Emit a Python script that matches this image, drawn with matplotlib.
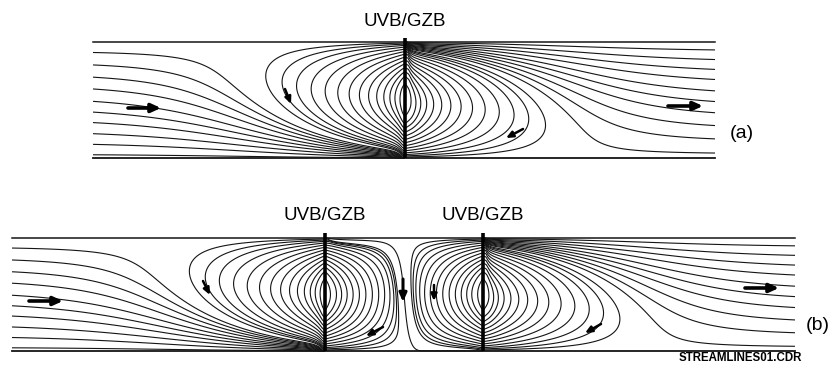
import numpy as np
import matplotlib
matplotlib.use("Agg")
import matplotlib.pyplot as plt

# ---------------- data ----------------
# stream-function values of the through-flow lines (fraction of channel height far upstream)
stream_levels = [0.034, 0.138, 0.241, 0.345, 0.44, 0.534, 0.638, 0.733, 0.828, 0.922]
# through-flow lines drawn in the gap between the two barriers
gap_levels = [0.5]
# distances (px, panel a) from the barrier at which the recirculation rings cross mid-depth
ring_offsets = [5, 10, 15, 21, 28, 36, 45, 55, 66, 78, 91, 104, 116, 128]
# barrier labels
barrier_label = "UVB/GZB"
panel_labels = ["(a)", "(b)"]
file_label = "STREAMLINES01.CDR"

# flow model parameters (shape only)
A_VORT = 4.3      # vortex strength
A_DECAY = 0.56    # vortex decay length (channel heights)
GAMMA = 0.08      # corner convergence
JET_AMP = 3.0
JET_K = 6.0

# ---------------- layout ----------------
panels = [
    dict(x0=93, x1=715, top=42, bot=158, barriers=[405], btop=38),
    dict(x0=12, x1=795, top=238, bot=351, barriers=[325, 483], btop=233),
]
arrows = [  # (x_tail, y_tail, x_head, y_head, kind)
    (128, 108, 161, 108, "big"), (668, 106, 703, 106, "big"),
    (285, 89, 291, 104, "small"), (523, 129, 506, 138, "small"),
    (29, 301, 63, 301, "big"), (745, 288, 779, 288, "big"),
    (203, 281, 210, 295, "small"), (383, 327, 366, 336, "small"),
    (403, 279, 403, 302, "mid"), (434, 285, 434, 301, "small"),
    (601, 324, 585, 333, "small"),
]

fig = plt.figure(figsize=(8.38, 3.67), dpi=100)
ax = fig.add_axes([0, 0, 1, 1])
ax.set_xlim(0, 838)
ax.set_ylim(367, 0)
ax.axis("off")

LC = "#151515"
LW = 0.8


def g(d):
    return np.exp(-d / A_DECAY)


def powfield(eta, phi):
    p = np.exp(np.clip(phi, -50, 50))
    with np.errstate(all="ignore"):
        v = np.where(eta > 0, np.power(np.maximum(eta, 1e-300), p), 0.0)
    return v


def psi_left(u, eta):
    phi = -GAMMA / u
    return powfield(eta, phi) + A_VORT * g(u) * np.sin(np.pi * eta)


def psi_right(u, eta):
    phi = GAMMA / u
    return powfield(eta, phi) - A_VORT * g(u) * np.sin(np.pi * eta)


def psi_gap(u1, u2, s, Dgap, eta):
    phi = GAMMA / u1 - GAMMA / u2 - JET_AMP * np.tanh(JET_K * s)
    Ap = A_VORT / (1 - g(Dgap))
    return (powfield(eta, phi) - Ap * g(u1) * np.sin(np.pi * eta)
            + Ap * g(u2) * np.sin(np.pi * eta))


def draw(X, Y, Z, levels):
    ax.contour(X, Y, Z, levels=sorted(levels), colors=LC, linewidths=LW,
               linestyles="solid")


Ha = panels[0]["bot"] - panels[0]["top"]
ring_d = []
for o in ring_offsets:
    d = float(psi_left(np.array(o / Ha), np.array(0.5))) - 1.0
    if d > 0.01:
        ring_d.append(d)

EPS = 1e-4
for P in panels:
    H = P["bot"] - P["top"]
    bars = P["barriers"]
    eta = np.linspace(0, 1, int(H * 4) + 1)

    xb = bars[0]
    u = np.linspace((xb - P["x0"]) / H, EPS, int((xb - P["x0"]) * 4))
    U, E = np.meshgrid(u, eta)
    draw(xb - U * H, P["bot"] - E * H, psi_left(U, E),
         stream_levels + [1 + d for d in ring_d])

    xb = bars[-1]
    u = np.linspace(EPS, (P["x1"] - xb) / H, int((P["x1"] - xb) * 4))
    U, E = np.meshgrid(u, eta)
    draw(xb + U * H, P["bot"] - E * H, psi_right(U, E),
         stream_levels + [-d for d in ring_d])

    for b1, b2 in zip(bars[:-1], bars[1:]):
        Dg = (b2 - b1) / H
        u1 = np.linspace(EPS, Dg - EPS, int((b2 - b1) * 5))
        U1, E = np.meshgrid(u1, eta)
        Z = psi_gap(U1, Dg - U1, U1 - Dg / 2, Dg, E)
        draw(b1 + U1 * H, P["bot"] - E * H, Z,
             gap_levels + [-d for d in ring_d] + [1 + d for d in ring_d])

    ax.plot([P["x0"], P["x1"]], [P["top"], P["top"]], color=LC, lw=1.1)
    ax.plot([P["x0"], P["x1"]], [P["bot"], P["bot"]], color=LC, lw=1.3)
    for xb in bars:
        ax.plot([xb, xb], [P["btop"], P["bot"]], color="black", lw=2.6,
                solid_capstyle="butt")
        ax.text(xb, P["btop"] - 17, barrier_label, ha="center", va="center",
                fontsize=13.5, family="Liberation Sans", color="black")

ax.text(742, 133, panel_labels[0], ha="center", va="center", fontsize=14,
        family="Liberation Sans")
ax.text(818, 325, panel_labels[1], ha="center", va="center", fontsize=14,
        family="Liberation Sans")
ax.text(740, 358, file_label, ha="center", va="center", fontsize=8.3,
        family="Liberation Sans", weight="bold")

styles = {
    "big": dict(arrowstyle="-|>,head_length=0.55,head_width=0.25", lw=2.6),
    "mid": dict(arrowstyle="-|>,head_length=0.5,head_width=0.22", lw=2.2),
    "small": dict(arrowstyle="-|>,head_length=0.4,head_width=0.18", lw=1.8),
}
for xt, yt, xh, yh, kind in arrows:
    ax.annotate("", xy=(xh, yh), xytext=(xt, yt),
                arrowprops=dict(color="black", shrinkA=0, shrinkB=0,
                                **styles[kind]))

fig.savefig("out.png", dpi=100)
